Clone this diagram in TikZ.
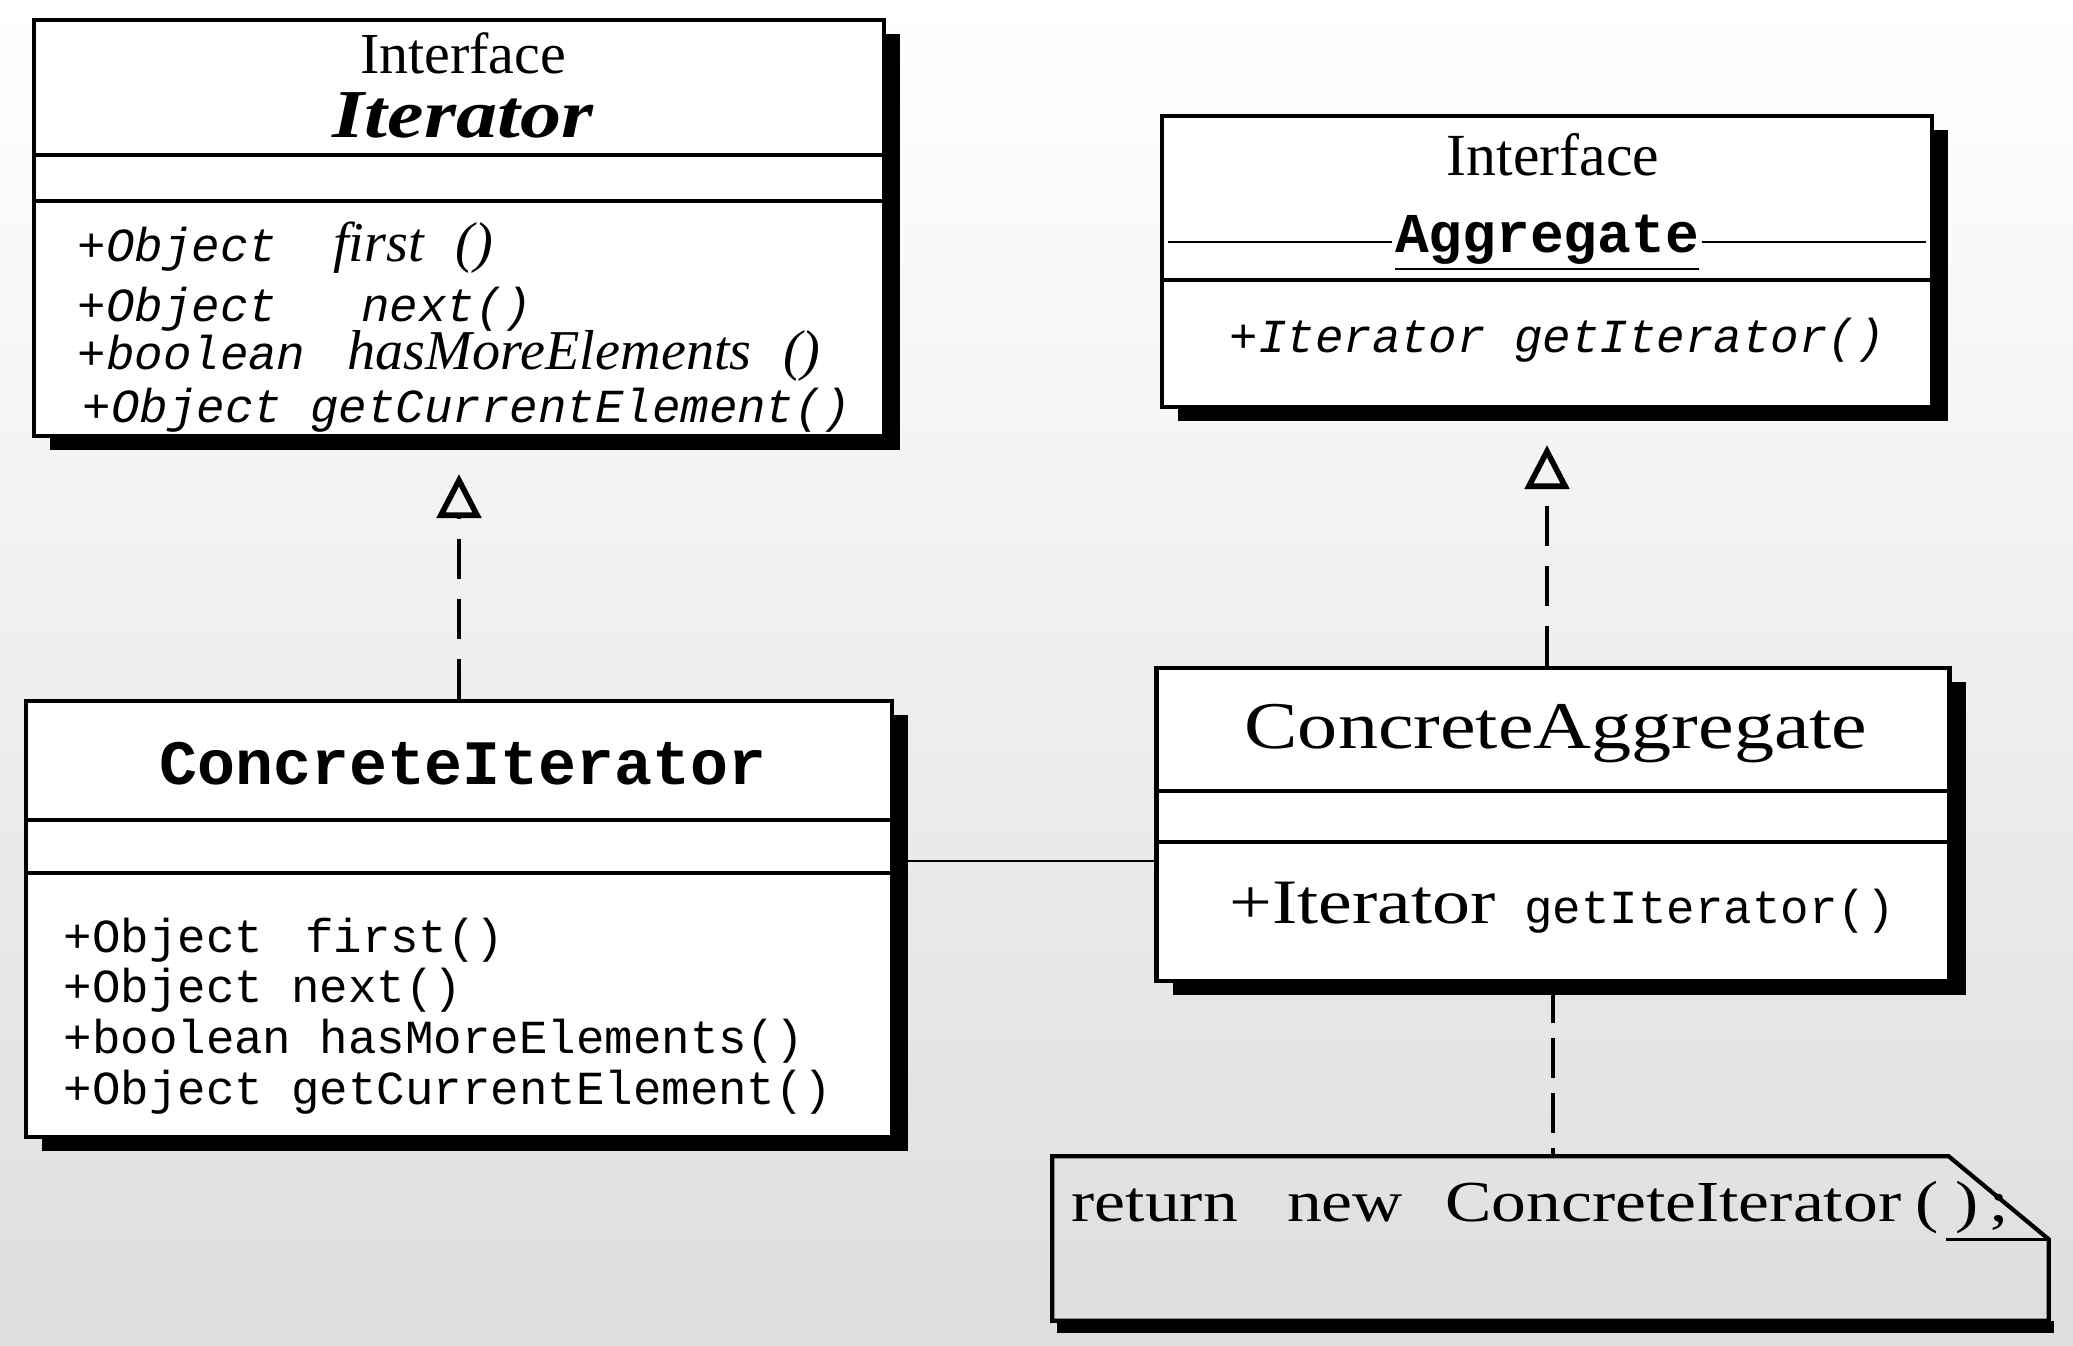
\documentclass[tikz,border=0pt]{standalone}
\usepackage{fontspec}
\setmainfont{Liberation Serif}
\setmonofont{Liberation Mono}
\newfontfamily\wideserif[FakeStretch=1.2]{Liberation Serif}
\newcommand{\opname}[1]{{\fontsize{16}{16}\selectfont\rmfamily\itshape #1}}
\usetikzlibrary{arrows.meta,shadows}

\begin{document}
\begin{tikzpicture}[
    umlclass/.style = {draw, line width=1.2pt, fill=white, inner sep=0pt,
      drop shadow={shadow xshift=0.16cm, shadow yshift=-0.14cm, fill=black, opacity=1}},
    sepline/.style = {line width=1.2pt},
    label/.style = {inner sep=0pt},
    member/.style = {anchor=base west, inner sep=0pt, font=\fontsize{13.5}{14}\selectfont\ttfamily},
    realize/.style = {line width=1.3pt, dash pattern=on 0.4cm off 0.2cm, shorten >=0.36cm,
      -{Triangle[open, length=0.44cm, width=0.44cm, line width=1.6pt]}},
  ]
  \useasboundingbox (0,0) rectangle (20.73,-13.46);
  \shade[top color=white, middle color=black!4, bottom color=black!13] (0,0) rectangle (20.73,-13.46);

  % Iterator
  \node[umlclass, minimum width=8.50cm, minimum height=4.16cm] (it) at (4.59,-2.28) {};
  \draw[sepline] (0.34,-1.55) -- (8.84,-1.55);
  \draw[sepline] (0.34,-2.01) -- (8.84,-2.01);
  \node[label] (itkind) at (4.63,-0.53) {\fontsize{16.5}{17}\selectfont Interface};
  \node[label] (itname) at (4.63,-1.15) {\fontsize{19.5}{20}\selectfont\wideserif\bfseries\itshape Iterator};
  \node[member] (itm1) at (0.77,-2.62) {\itshape +Object\hspace{16pt}\opname{first}\hspace{9pt}\opname{()}};
  \node[member] (itm2) at (0.77,-3.22) {\itshape +Object\hspace{24pt}next()};
  \node[member] (itm3) at (0.77,-3.70) {\itshape +boolean\hspace{12pt}\opname{hasMoreElements}\hspace{9pt}\opname{()}};
  \node[member] (itm4) at (0.82,-4.23) {\itshape +Object getCurrentElement()};

  % Aggregate
  \node[umlclass, minimum width=7.70cm, minimum height=2.91cm] (ag) at (15.47,-2.615) {};
  \draw[line width=0.6pt] (11.68,-2.42) -- (19.26,-2.42);
  \draw[sepline] (11.62,-2.80) -- (19.32,-2.80);
  \node[label] (agkind) at (15.53,-1.55) {\fontsize{17}{17}\selectfont Interface};
  \node[fill=white, inner sep=1pt] (agname) at (15.47,-2.43) {\fontsize{16}{16}\selectfont\ttfamily\bfseries\underline{Aggregate}};
  \node[member] (agm1) at (12.29,-3.53) {\itshape +Iterator getIterator()};

  % ConcreteIterator
  \node[umlclass, minimum width=8.66cm, minimum height=4.36cm] (ci) at (4.59,-9.19) {};
  \draw[sepline] (0.26,-8.20) -- (8.92,-8.20);
  \draw[sepline] (0.26,-8.73) -- (8.92,-8.73);
  \node[label] (ciname) at (4.63,-7.64) {\fontsize{18}{18}\selectfont\ttfamily\bfseries ConcreteIterator};
  \node[member] (cim1) at (0.63,-9.52) {+Object\hspace{12pt}first()};
  \node[member] (cim2) at (0.63,-10.02) {+Object next()};
  \node[member] (cim3) at (0.63,-10.53) {+boolean hasMoreElements()};
  \node[member] (cim4) at (0.63,-11.04) {+Object getCurrentElement()};

  % ConcreteAggregate
  \node[umlclass, minimum width=7.93cm, minimum height=3.13cm] (ca) at (15.53,-8.245) {};
  \draw[sepline] (11.565,-7.91) -- (19.495,-7.91);
  \draw[sepline] (11.565,-8.42) -- (19.495,-8.42);
  \node[label] (caname) at (15.56,-7.34) {\fontsize{19}{19}\selectfont\wideserif ConcreteAggregate};
  \node[member] (cam1) at (12.29,-9.23) {{\fontsize{18}{18}\selectfont\wideserif +Iterator} getIterator()};

  % note
  \node[minimum width=9.95cm, minimum height=1.63cm, inner sep=0pt] (note) at (15.505,-12.385) {};
  \fill ([xshift=0.05cm]note.south west) rectangle ([xshift=0.05cm,yshift=-0.12cm]note.south east);
  \draw[line width=1.2pt] (note.north west) -- ([xshift=-1cm]note.north east)
    -- ([yshift=-0.83cm]note.north east) -- (note.south east) -- (note.south west) -- cycle;
  \draw[line width=0.8pt] ([xshift=-1.03cm,yshift=-0.83cm]note.north east) -- ([yshift=-0.83cm]note.north east);
  \node[anchor=base west, inner sep=0pt] (notetext) at (10.71,-12.21)
    {\fontsize{16.5}{17}\selectfont\wideserif return\hspace{14pt}new\hspace{12pt}ConcreteIterator\hspace{4pt}(\hspace{5pt})\hspace{3pt};};

  % connectors
  \draw[realize] (ci.north) -- (it.south);
  \draw[realize] (ca.north -| ag.south) -- (ag.south);
  \draw[line width=0.8pt] ([yshift=0.58cm]ci.east) -- ([yshift=-0.365cm]ca.west);
  \draw[line width=1.2pt, dash pattern=on 0.4cm off 0.15cm] (ca.south) -- (note.north -| ca.south);
\end{tikzpicture}
\end{document}
